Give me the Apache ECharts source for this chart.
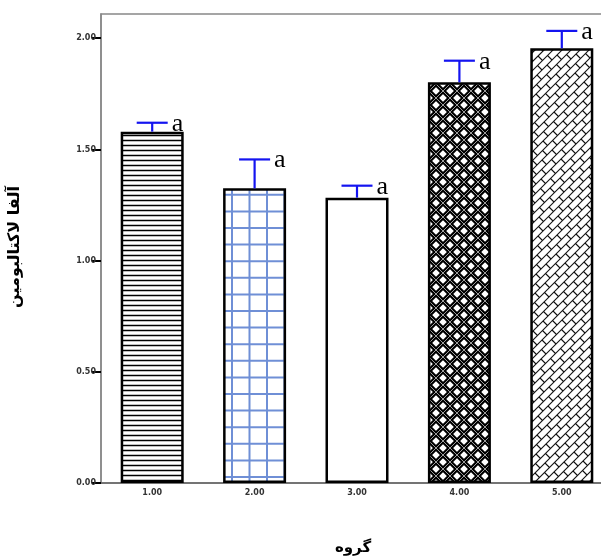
<!DOCTYPE html>
<html>
<head>
<meta charset="utf-8">
<script src="https://cdn.jsdelivr.net/npm/echarts@6/dist/echarts.min.js"></script>
<style>html,body{margin:0;padding:0;background:#fff}#c{width:601px;height:558px}</style>
</head>
<body>
<div id="c"></div>
<script>
var categories = ['1.00', '2.00', '3.00', '4.00', '5.00'];
var meanValues = [1.580, 1.325, 1.283, 1.802, 1.955];
var errorValues = [0.040, 0.130, 0.054, 0.097, 0.078];
var groupLetters = ['a', 'a', 'a', 'a', 'a'];
var yTitle = 'آلفا لاکتالبومین';
var xTitle = 'گروه';

function mk(w, h, draw) {
  var c = document.createElement('canvas');
  c.width = w; c.height = h;
  var g = c.getContext('2d');
  g.fillStyle = '#fff'; g.fillRect(0, 0, w, h);
  draw(g, w, h);
  return {image: c, repeat: 'repeat'};
}
var W = 601, H = 558;
// bar 1: horizontal lines
var pat1 = mk(W, H, function (g) {
  g.strokeStyle = '#000'; g.lineWidth = 1.3;
  for (var y = 0.5; y < H; y += 5) { g.beginPath(); g.moveTo(0, y); g.lineTo(W, y); g.stroke(); }
});
// bar 2: blue grid
var pat2 = mk(W, H, function (g) {
  g.strokeStyle = '#6f8fd6'; g.lineWidth = 2;
  for (var x = 232 % 17.5; x < W; x += 17.5) { g.beginPath(); g.moveTo(x, 0); g.lineTo(x, H); g.stroke(); }
  for (var y = 477 % 16.6; y < H; y += 16.6) { g.beginPath(); g.moveTo(0, y); g.lineTo(W, y); g.stroke(); }
});
// bar 4: diamond lattice
var pat4 = mk(W, H, function (g) {
  var a = 14;
  function lines(col, lw) {
    g.strokeStyle = col; g.lineWidth = lw;
    for (var c = -H; c < W + H; c += a) {
      g.beginPath(); g.moveTo(c, 0); g.lineTo(c + H, H); g.stroke();
      g.beginPath(); g.moveTo(c, 0); g.lineTo(c - H, H); g.stroke();
    }
  }
  lines('#000', 4.5);
  lines('#9a9a9a', 1);
});
// bar 5: diagonal brick
var pat5 = mk(W, H, function (g) {
  var s = 9, D = 20;
  g.strokeStyle = '#111'; g.lineWidth = 1.1;
  var k = 0;
  for (var c = 0; c < W + H; c += s, k++) {
    g.beginPath(); g.moveTo(c, 0); g.lineTo(c - H, H); g.stroke();
    var off = (k % 2) * D / 2;
    for (var d = -H + off; d < W; d += D) {
      var x1 = (c + d) / 2, y1 = (c - d) / 2, x2 = (c + s + d) / 2, y2 = (c + s - d) / 2;
      g.beginPath(); g.moveTo(x1, y1); g.lineTo(x2, y2); g.stroke();
    }
  }
});
var fills = [pat1, pat2, '#ffffff', pat4, pat5];

var chart = echarts.init(document.getElementById('c'));
var errData = meanValues.map(function (v, i) { return [i, v, v + errorValues[i], groupLetters[i]]; });

chart.setOption({
  animation: false,
  grid: {left: 101, top: 14, right: -12, bottom: 75, outerBoundsMode: 'none', containLabel: false,
    show: true, borderColor: '#888', borderWidth: 1.5, backgroundColor: 'transparent'},
  xAxis: {
    type: 'category', data: categories,
    axisLine: {lineStyle: {color: '#666', width: 1.5}},
    axisTick: {alignWithLabel: true, length: 9, lineStyle: {color: '#000', width: 2}},
    axisLabel: {fontSize: 8, fontWeight: 'bold', color: '#333', margin: 6, fontFamily: 'DejaVu Sans'}
  },
  yAxis: {
    type: 'value', min: 0, max: 2.109, interval: 0.5,
    splitLine: {show: false},
    axisLine: {show: true, lineStyle: {color: '#888', width: 1.5}},
    axisTick: {show: true, length: 9, lineStyle: {color: '#000', width: 2}},
    axisLabel: {fontSize: 8, fontWeight: 'bold', color: '#333', margin: 5, fontFamily: 'DejaVu Sans',
      formatter: function (v) { return v.toFixed(2); }, showMaxLabel: false}
  },
  graphic: [
    {type: 'text', x: 15, y: 247, rotation: Math.PI / 2,
      style: {text: yTitle, font: 'bold 16px "DejaVu Sans"', fill: '#000', align: 'center', verticalAlign: 'middle'}},
    {type: 'text', x: 353, y: 548,
      style: {text: xTitle, font: 'bold 15px "DejaVu Sans"', fill: '#000', align: 'center', verticalAlign: 'middle'}}
  ],
  series: [
    {
      type: 'bar', barWidth: 63,
      data: meanValues.map(function (v, i) {
        return {value: v, itemStyle: {color: fills[i]}};
      }),
      itemStyle: {borderColor: '#000', borderWidth: 2.5}
    },
    {
      type: 'custom', z: 5,
      data: errData,
      renderItem: function (params, api) {
        var base = api.coord([api.value(0), api.value(1)]);
        var top = api.coord([api.value(0), api.value(2)]);
        var hw = 15.5;
        var ls = {stroke: '#1414f0', lineWidth: 2.2};
        return {type: 'group', children: [
          {type: 'line', shape: {x1: base[0], y1: base[1], x2: top[0], y2: top[1]}, style: ls},
          {type: 'line', shape: {x1: top[0] - hw, y1: top[1], x2: top[0] + hw, y2: top[1]}, style: ls},
          {type: 'text', x: top[0] + hw + 4, y: top[1] + 1,
            style: {text: api.value(3), font: '26px "Liberation Serif"', fill: '#000', align: 'left', verticalAlign: 'middle'}}
        ]};
      }
    }
  ]
});
</script>
</body>
</html>
